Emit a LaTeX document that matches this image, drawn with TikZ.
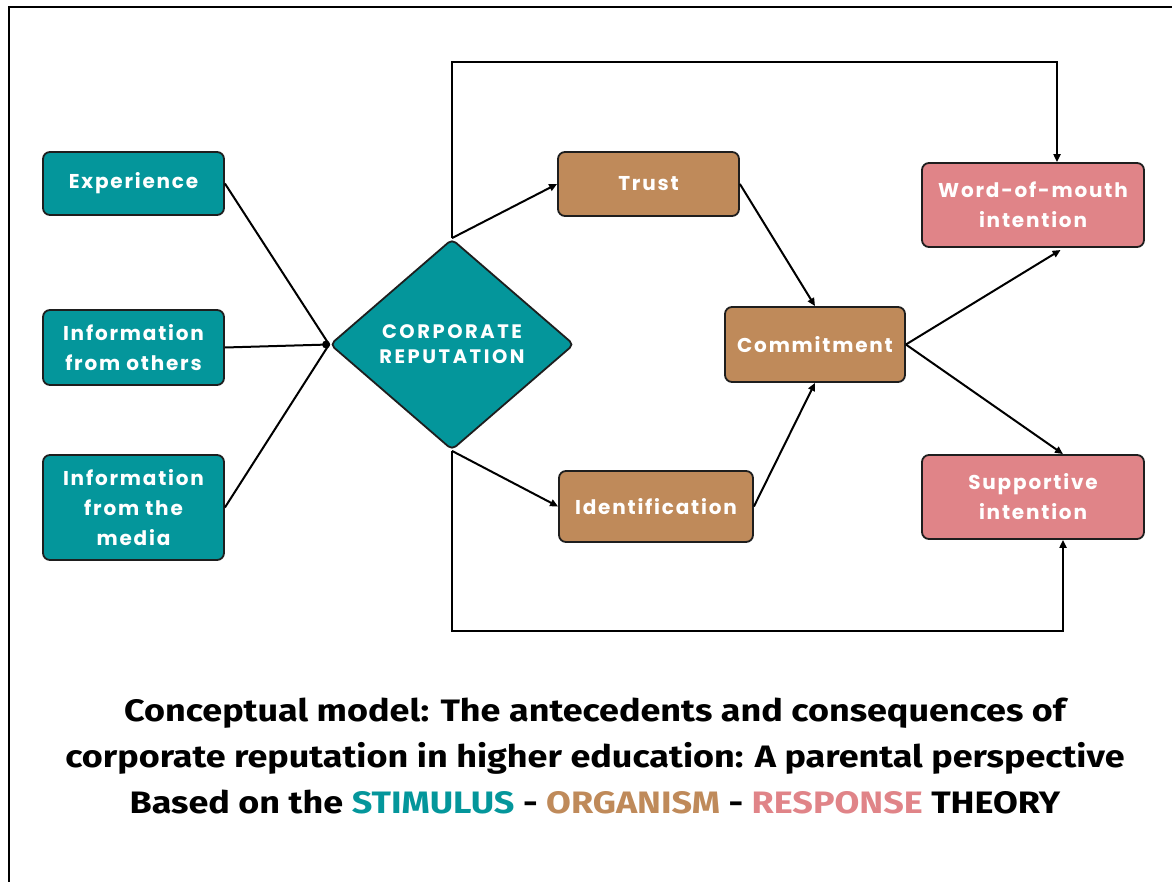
\documentclass[tikz,border=0pt]{standalone}
\usepackage{fontspec}
\setmainfont[FakeStretch=1.16]{Fira Sans}
\newfontfamily\boxfont[LetterSpace=9]{Poppins}
\newfontfamily\diafont[LetterSpace=13]{Poppins}
\usetikzlibrary{arrows.meta,shapes.geometric,calc}

\definecolor{stim}{HTML}{04969B}
\definecolor{orgc}{HTML}{BF8A5A}
\definecolor{resp}{HTML}{E08488}
\definecolor{edge}{HTML}{1E1E1E}

\tikzset{
  card/.style={draw=edge, line width=1.8pt, rounded corners=7pt, text=white,
    align=center, inner sep=0pt, font=\boxfont\bfseries\fontsize{20}{30}\selectfont},
  stimbox/.style={card, fill=stim, minimum width=181pt},
  orgbox/.style={card, fill=orgc},
  respbox/.style={card, fill=resp, minimum width=222pt, minimum height=84pt},
  link/.style={draw=black, line width=2pt},
  flow/.style={link, -{Triangle[length=8pt,width=7pt]}},
}

\begin{document}
\begin{tikzpicture}[x=1pt,y=-1pt]
\useasboundingbox (0,0) rectangle (1172,882);

% outer frame
\draw[line width=2.2pt] (9,882) -- (9,7) -- (1172,7);

% stimulus
\node[stimbox, minimum height=63pt]  (exp)    at (133.5,183.5) {Experience};
\node[stimbox, minimum height=75pt]  (others) at (133.5,347.5) {Information\\from others};
\node[stimbox, minimum height=105pt] (media)  at (133.5,507.5) {Information\\from the\\media};

\node[diamond, draw=edge, line width=1.8pt, fill=stim, rounded corners=5pt,
      minimum width=244pt, minimum height=211pt, inner sep=0pt, text=white, align=center,
      font=\diafont\bfseries\fontsize{19.5}{25}\selectfont] (rep) at (452,344.5)
      {CORPORATE\\REPUTATION};

% organism
\node[orgbox, minimum width=181pt, minimum height=64pt] (trust)  at (648.5,184) {Trust};
\node[orgbox, minimum width=194pt, minimum height=71pt] (ident)  at (656,506.5) {Identification};
\node[orgbox, minimum width=180pt, minimum height=75pt] (commit) at (815,344.5) {Commitment};

% response
\node[respbox] (wom)  at (1033,205) {Word-of-mouth\\intention};
\node[respbox] (supp) at (1033,497) {Supportive\\intention};

% antecedents converge on the reputation node
\draw[link] (exp.east) -- (rep.west);
\draw[link] (others.east) -- (rep.west);
\draw[link] (media.east) -- (rep.west);
\fill[black] ([xshift=-3pt]rep.west) circle (4pt);

% reputation to organism
\draw[flow] (rep.north) -- (trust.west);
\draw[flow] (rep.south) -- (ident.west);
\draw[flow] (trust.east) -- (commit.north);
\draw[flow] (ident.east) -- (commit.south);

% organism to response
\draw[flow, shorten >=4pt] (commit.east) -- ([xshift=31pt]wom.south);
\draw[flow] (commit.east) -- ([xshift=30pt]supp.north);

% direct paths from reputation to responses
\coordinate (topY) at (0,62);
\coordinate (botY) at (0,631);
\draw[flow] (rep.north) -- (rep.north |- topY) -| ([xshift=24pt]wom.north);
\draw[flow] (rep.south) -- (rep.south |- botY) -| ([xshift=30pt]supp.south);

% caption
\node[align=center, font=\bfseries\fontsize{31}{46}\selectfont] (title) at (595,756)
  {Conceptual model: The antecedents and consequences of\\
   corporate reputation in higher education: A parental perspective\\
   Based on the \textcolor{stim}{STIMULUS} - \textcolor{orgc}{ORGANISM} - \textcolor{resp}{RESPONSE} THEORY};
\end{tikzpicture}
\end{document}
